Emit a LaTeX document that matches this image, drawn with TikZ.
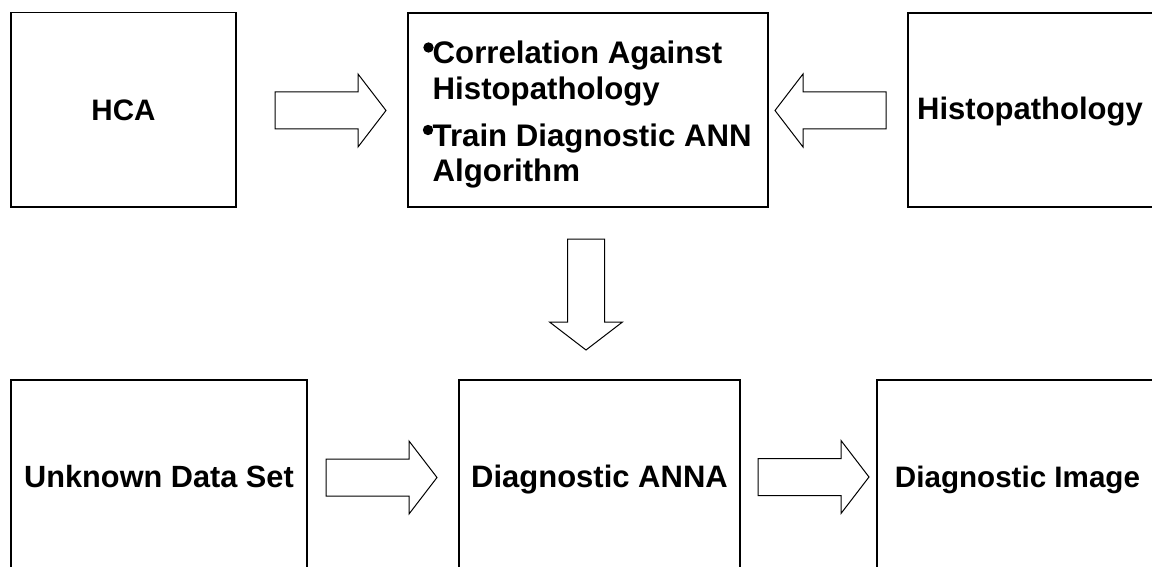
\documentclass[tikz,border=0pt]{standalone}
\usepackage{fontspec}
\setmainfont{Liberation Sans}
\newcommand{\boxfont}[1]{\fontsize{#1}{36}\selectfont\bfseries}
\begin{document}
\begin{tikzpicture}[x=1pt,y=-1pt,
  box/.style={draw=black, line width=1.3pt, fill=white, inner sep=0pt,
    font=\boxfont{29.6}, text height=21.2pt, text depth=0pt},
  label/.style={font=\boxfont{31}, inner sep=0pt},
  itemline/.style={font=\boxfont{31.2}, inner sep=0pt, anchor=base west},
  dot/.style={circle, fill=black, inner sep=0pt, minimum size=10.4pt},
  blockarrow/.style={draw=black, line width=1pt, fill=white, line join=miter}
]
\tikzset{
  pics/fatarrow/.style={code={
    \path[blockarrow] (0,-18.5) -- (83,-18.5) -- (83,-36.5) -- (111,0)
      -- (83,36.5) -- (83,18.5) -- (0,18.5) -- cycle;
  }}
}
\useasboundingbox (0,0) rectangle (1152,567);
\fill[white] (0,0) rectangle (1152,567);
\clip (0,0) rectangle (1152,567);

% top row
\node[box, minimum width=225pt, minimum height=194.5pt] (hca) at (123.5,109.75) {HCA};
\node[box, minimum width=360pt, minimum height=194pt] (train) at (588,110) {};
\node[box, minimum width=260pt, minimum height=194pt] (hist) at (1038,110) {};
\node[label, anchor=base] (histlabel) at (1030,119.5) {Histopathology};

% bulleted text of the training box
\node[dot] (b1) at (428.5,47.5) {};
\node[itemline] (l1) at (432.5,64) {Correlation Against};
\node[itemline] (l2) at (432.5,100) {Histopathology};
\node[dot] (b2) at (428,130) {};
\node[itemline] (l3) at (432.5,147) {Train Diagnostic ANN};
\node[itemline] (l4) at (432.5,182) {Algorithm};

% bottom row
\node[box, font=\boxfont{30.7}, minimum width=296pt, minimum height=193pt] (unknown) at (159,476.5) {Unknown Data Set};
\node[box, font=\boxfont{31}, minimum width=281pt, minimum height=193pt] (anna) at (599.5,476.5) {Diagnostic ANNA};
\node[box, minimum width=281pt, minimum height=193pt] (dimg) at (1017.5,476.5) {Diagnostic Image};

% block arrows between the boxes
\path (275,110.5) pic {fatarrow};
\path (886,110.5) pic[rotate=180] {fatarrow};
\path (586,239) pic[rotate=-90] {fatarrow};
\path (326,477.5) pic {fatarrow};
\path (758,477) pic {fatarrow};
\end{tikzpicture}
\end{document}
